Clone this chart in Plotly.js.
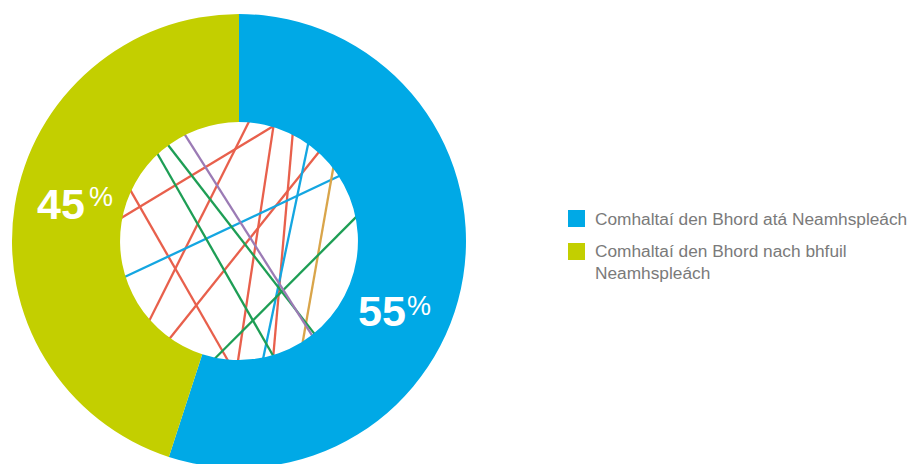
<!DOCTYPE html>
<html>
<head>
<meta charset="utf-8">
<script src="https://cdn.plot.ly/plotly-3.0.1.min.js"></script>
<style>
html,body{margin:0;padding:0;overflow:hidden;background:#fff;}
#chart{width:912px;height:470px;}
</style>
</head>
<body>
<div id="chart"></div>
<script>
// ---- data ----
var labels = ["Comhaltaí den Bhord atá Neamhspleách", "Comhaltaí den Bhord nach bhfuil<br>Neamhspleách"];
var values = [55, 45];
var sliceColors = ["#00A9E6", "#C3CF00"];
var pctLabels = ["55", "45"];

// decorative chords inside the hole: start/end angles (degrees, counter-clockwise from 3 o'clock)
var chordStart = [73.3, 85.2, 73.3, 63.4, 48.1, 154.9, 54.7, 197.5, 38.1, 11.7, 133.0, 126.5, 117.0];
var chordEnd   = [169.0, 221.6, 269.5, 286.6, 234.6, 264.7, 281.6, 32.9, 302.0, 258.4, 286.6, 309.1, 307.7];
var chordColor = ["#E8604C", "#E8604C", "#E8604C", "#E8604C", "#E8604C", "#E8604C",
                  "#14A6E1", "#14A6E1", "#D9A54A", "#1E9E55", "#1E9E55", "#1E9E55", "#9B7BB5"];

// ---- geometry (pixel frame) ----
var W = 912, H = 470;
var cx = 239, cy = 241, R = 227, rHole = 120;

var traces = [];
for (var i = 0; i < chordStart.length; i++) {
  var a0 = chordStart[i] * Math.PI / 180, a1 = chordEnd[i] * Math.PI / 180;
  traces.push({
    type: "scatter", mode: "lines",
    x: [cx + rHole * Math.cos(a0), cx + rHole * Math.cos(a1)],
    y: [cy - rHole * Math.sin(a0), cy - rHole * Math.sin(a1)],
    line: {color: chordColor[i], width: 2.3},
    hoverinfo: "skip", showlegend: false
  });
}

traces.push({
  type: "pie",
  labels: labels,
  values: values,
  marker: {colors: sliceColors, line: {width: 0}},
  hole: 0.524,
  sort: false,
  direction: "clockwise",
  rotation: 0,
  textinfo: "none",
  hoverinfo: "skip",
  showlegend: false,
  domain: {x: [(cx - R) / W, (cx + R) / W], y: [1 - (cy + R) / H, 1 - (cy - R) / H]}
});

var font = "'Liberation Sans', Arial, Helvetica, sans-serif";
var annotations = [
  {x: 356, y: 311, text: pctLabels[0], font: {family: font, size: 43, color: "#fff", weight: "bold"}},
  {x: 405, y: 306, text: "%", font: {family: font, size: 27, color: "#fff"}},
  {x: 35, y: 204, text: pctLabels[1], font: {family: font, size: 43, color: "#fff", weight: "bold"}},
  {x: 87, y: 197, text: "%", font: {family: font, size: 27, color: "#fff"}},
  {x: 593, y: 219, text: labels[0], font: {family: font, size: 17.3, color: "#7a7a7a"}},
  {x: 593, y: 239, yanchor: "top", text: labels[1], font: {family: font, size: 17.3, color: "#7a7a7a"}}
];
annotations.forEach(function (a) {
  a.xref = "x"; a.yref = "y"; a.showarrow = false; a.xanchor = "left";
  if (!a.yanchor) a.yanchor = "middle";
  a.align = "left";
});

var shapes = [
  {type: "rect", xref: "x", yref: "y", x0: 568, x1: 585, y0: 210, y1: 227, fillcolor: sliceColors[0], line: {width: 0}},
  {type: "rect", xref: "x", yref: "y", x0: 568, x1: 585, y0: 243, y1: 260, fillcolor: sliceColors[1], line: {width: 0}}
];

var layout = {
  width: W, height: H,
  margin: {l: 0, r: 0, t: 0, b: 0},
  paper_bgcolor: "#fff", plot_bgcolor: "rgba(0,0,0,0)",
  showlegend: false,
  xaxis: {range: [0, W], visible: false, fixedrange: true},
  yaxis: {range: [H, 0], visible: false, fixedrange: true},
  annotations: annotations,
  shapes: shapes
};

Plotly.newPlot("chart", traces, layout, {displayModeBar: false, staticPlot: true});
</script>
</body>
</html>
